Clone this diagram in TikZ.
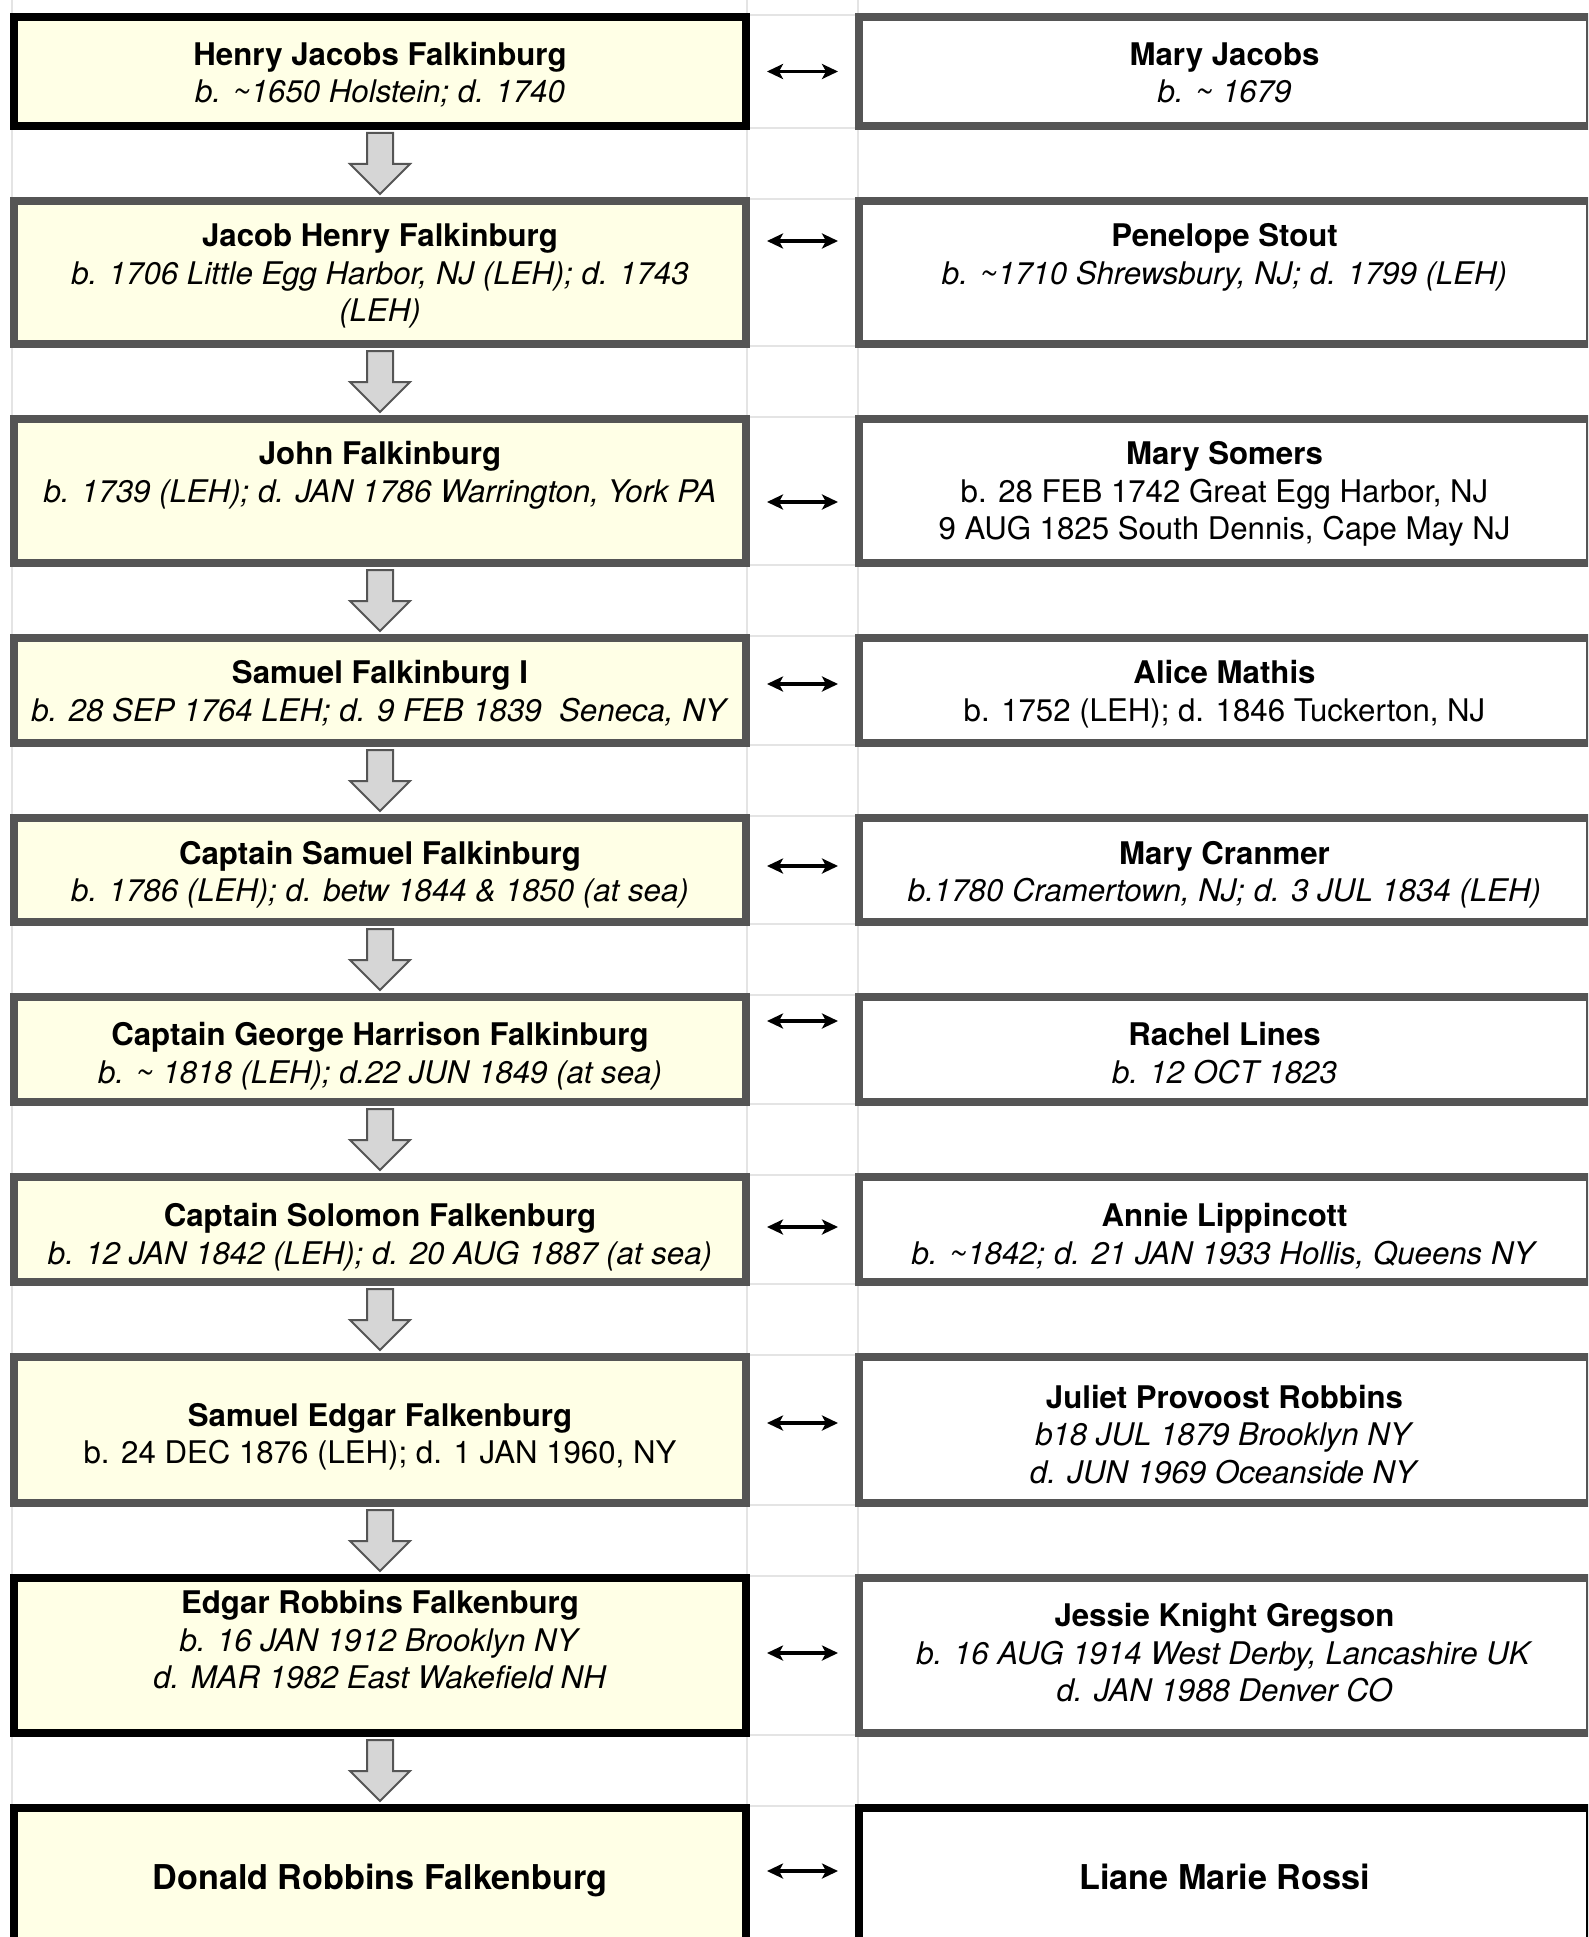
\documentclass[tikz,border=0pt]{standalone}
\usepackage{fontspec}
\setmainfont{TeX Gyre Heros}
\usepackage{tikz}
\usepackage{xcolor}
\usetikzlibrary{positioning,calc,arrows.meta,backgrounds}

\definecolor{paleyellow}{RGB}{255,255,230}
\definecolor{rimgray}{RGB}{85,85,85}
\definecolor{cellgray}{RGB}{228,228,228}
\definecolor{blockgray}{RGB}{214,214,214}

\newcommand{\famcell}[1]{\begin{tabular}[t]{@{}c@{}}#1\end{tabular}}

\begin{document}
\begin{tikzpicture}[x=1pt, y=-1pt, node distance=67pt and 105pt,
lift/.style={text height=\dimexpr50pt+#1pt\relax, text depth=\dimexpr50pt-#1pt\relax},
ancestor/.style={draw=rimgray, fill=paleyellow, line width=8pt, minimum width=732pt, inner sep=1pt,
  font=\fontsize{31.2}{37.5}\selectfont, lift=-7},
spouse/.style={ancestor, fill=white, minimum width=731pt},
heavy/.style={draw=black},
lastrow/.style={font=\fontsize{34.2}{41}\selectfont, lift=14.5},
gridline/.style={draw=cellgray, line width=2pt},
wedlock/.style={{Stealth[length=16pt,width=15pt,inset=4pt]}-{Stealth[length=16pt,width=15pt,inset=4pt]}, line width=3.5pt, shorten <=17pt, shorten >=17pt},
blockarrow/.style={draw=rimgray, fill=blockgray, line width=2pt, line join=miter}]
\useasboundingbox (0,0) rectangle (1588,1937);
\clip (0,0) rectangle (1588,1937);

\node[ancestor, heavy, lift=-6, minimum height=109pt] (l1) at (380,71.5) {\famcell{\textbf{Henry Jacobs Falkinburg}\\ \textit{b. \textasciitilde1650 Holstein; d. 1740}}};
\node[ancestor, lift=-26, minimum height=143pt, below=of l1] (l2) {\famcell{\textbf{Jacob Henry Falkinburg}\\ \textit{b. 1706 Little Egg Harbor, NJ (LEH); d. 1743}\\ \textit{(LEH)}}};
\node[ancestor, lift=-26.5, minimum height=144pt, below=of l2] (l3) {\famcell{\textbf{John Falkinburg}\\ \textit{b. 1739 (LEH); d. JAN 1786 Warrington, York PA}}};
\node[ancestor, minimum height=105pt, below=of l3] (l4) {\famcell{\textbf{Samuel Falkinburg I}\\ \textit{b. 28 SEP 1764 LEH; d. 9 FEB 1839\ \ Seneca, NY}}};
\node[ancestor, lift=-6, minimum height=104pt, below=of l4] (l5) {\famcell{\textbf{Captain Samuel Falkinburg}\\ \textit{b. 1786 (LEH); d. betw 1844 \& 1850 (at sea)}}};
\node[ancestor, lift=-4, minimum height=105pt, below=of l5] (l6) {\famcell{\textbf{Captain George Harrison Falkinburg}\\ \textit{b. \textasciitilde{} 1818 (LEH); d.22 JUN 1849 (at sea)}}};
\node[ancestor, lift=-3, minimum height=105pt, below=of l6] (l7) {\famcell{\textbf{Captain Solomon Falkenburg}\\ \textit{b. 12 JAN 1842 (LEH); d. 20 AUG 1887 (at sea)}}};
\node[ancestor, lift=-4, minimum height=146pt, below=of l7] (l8) {\famcell{\textbf{Samuel Edgar Falkenburg}\\ b. 24 DEC 1876 (LEH); d. 1 JAN 1960, NY}};
\node[ancestor, heavy, lift=-42, minimum height=155pt, below=of l8] (l9) {\famcell{\textbf{Edgar Robbins Falkenburg}\\ \textit{b. 16 JAN 1912 Brooklyn NY}\\ \textit{d. MAR 1982 East Wakefield NH}}};
\node[ancestor, heavy, lastrow, minimum height=134pt, below=of l9] (l10) {\famcell{\textbf{Donald Robbins Falkenburg}}};

\node[spouse, lift=-6, minimum height=109pt, right=of l1] (r1) {\famcell{\textbf{Mary Jacobs}\\ \textit{b. \textasciitilde{} 1679}}};
\node[spouse, lift=-26, minimum height=143pt, right=of l2] (r2) {\famcell{\textbf{Penelope Stout}\\ \textit{b. \textasciitilde1710 Shrewsbury, NJ; d. 1799 (LEH)}}};
\node[spouse, lift=-26.5, minimum height=144pt, right=of l3] (r3) {\famcell{\textbf{Mary Somers}\\ b. 28 FEB 1742 Great Egg Harbor, NJ\\ 9 AUG 1825 South Dennis, Cape May NJ}};
\node[spouse, minimum height=105pt, right=of l4] (r4) {\famcell{\textbf{Alice Mathis}\\ b. 1752 (LEH); d. 1846 Tuckerton, NJ}};
\node[spouse, lift=-6, minimum height=104pt, right=of l5] (r5) {\famcell{\textbf{Mary Cranmer}\\ \textit{b.1780 Cramertown, NJ; d. 3 JUL 1834 (LEH)}}};
\node[spouse, lift=-4, minimum height=105pt, right=of l6] (r6) {\famcell{\textbf{Rachel Lines}\\ \textit{b. 12 OCT 1823}}};
\node[spouse, lift=-3, minimum height=105pt, right=of l7] (r7) {\famcell{\textbf{Annie Lippincott}\\ \textit{b. \textasciitilde1842; d. 21 JAN 1933 Hollis, Queens NY}}};
\node[spouse, lift=-22, minimum height=146pt, right=of l8] (r8) {\famcell{\textbf{Juliet Provoost Robbins}\\ \textit{b18 JUL 1879 Brooklyn NY}\\ \textit{d. JUN 1969 Oceanside NY}}};
\node[spouse, lift=-29, minimum height=155pt, right=of l9] (r9) {\famcell{\textbf{Jessie Knight Gregson}\\ \textit{b. 16 AUG 1914 West Derby, Lancashire UK}\\ \textit{d. JAN 1988 Denver CO}}};
\node[spouse, heavy, lastrow, minimum height=134pt, right=of l10] (r10) {\famcell{\textbf{Liane Marie Rossi}}};

\begin{scope}[on background layer]
\coordinate (gleft) at ($(l1.west)+(2,0)$);
\coordinate (gmid) at ($(l1.east)+(-3,0)$);
\coordinate (gright) at ($(r1.west)+(3,0)$);
\foreach \g in {gleft,gmid,gright}
  \draw[gridline] (\g |- 0,0) -- (\g |- 0,1937);
\foreach \i in {1,...,10} {
  \draw[gridline] ($(l\i.north east)+(0,2)$) -- ($(r\i.north west)+(0,2)$);
  \draw[gridline] ($(l\i.south east)+(0,-2)$) -- ($(r\i.south west)+(0,-2)$);
}
\end{scope}

\foreach \i [evaluate=\i as \j using int(\i+1)] in {1,...,9}
  \draw[blockarrow] ($(l\i.south)+(-13,3)$) -- ($(l\j.north)+(-13,-33)$) -- ($(l\j.north)+(-30,-33)$)
    -- ($(l\j.north)+(0,-3)$) -- ($(l\j.north)+(30,-33)$) -- ($(l\j.north)+(13,-33)$) -- ($(l\i.south)+(13,3)$) -- cycle;

\foreach \i/\dy in {1/0,2/-31.5,3/11,4/-6.5,5/-4,6/-28.5,7/-2.5,8/-7,9/-2.5,10/-4}
  \draw[wedlock] ($(l\i.east)+(0,\dy)$) -- ($(r\i.west)+(0,\dy)$);
\end{tikzpicture}
\end{document}
